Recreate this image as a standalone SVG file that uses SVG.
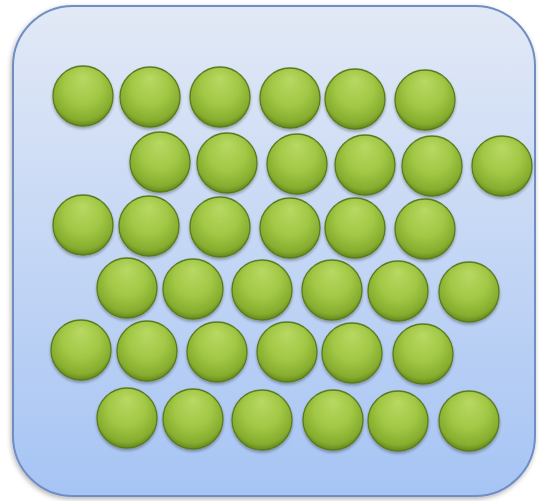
<svg xmlns="http://www.w3.org/2000/svg" width="539" height="501" viewBox="0 0 539 501">
<defs>
<linearGradient id="bg" x1="0" y1="0" x2="0" y2="1">
<stop offset="0" stop-color="#e2e9f6"/>
<stop offset="1" stop-color="#a6c4f4"/>
</linearGradient>
<radialGradient id="ball" cx="0.5" cy="0.42" r="0.58" fx="0.5" fy="0.18">
<stop offset="0" stop-color="#b8d963"/>
<stop offset="0.55" stop-color="#a2c745"/>
<stop offset="0.88" stop-color="#86ad2e"/>
<stop offset="1" stop-color="#66891d"/>
</radialGradient>
<filter id="sh" x="-20%" y="-20%" width="140%" height="140%">
<feGaussianBlur in="SourceAlpha" stdDeviation="1.5"/>
<feOffset dx="0" dy="2" result="b"/>
<feComponentTransfer><feFuncA type="linear" slope="0.3"/></feComponentTransfer>
<feMerge><feMergeNode/><feMergeNode in="SourceGraphic"/></feMerge>
</filter>
<filter id="psh" x="-10%" y="-10%" width="120%" height="120%">
<feGaussianBlur in="SourceAlpha" stdDeviation="2.5"/>
<feOffset dx="-1" dy="2"/>
<feComponentTransfer><feFuncA type="linear" slope="0.3"/></feComponentTransfer>
<feMerge><feMergeNode/><feMergeNode in="SourceGraphic"/></feMerge>
</filter>
</defs>
<style>
.b{fill:url(#ball);stroke:#5a7b1e;stroke-width:1.3;filter:url(#sh)}
</style>
<rect x="13" y="6" width="522" height="490" rx="60" ry="60" fill="url(#bg)" stroke="#6f8ec4" stroke-width="2" filter="url(#psh)"/>
<g id="balls">
<circle class="b" cx="83" cy="96" r="30"/>
<circle class="b" cx="150" cy="97" r="30"/>
<circle class="b" cx="220" cy="97" r="30"/>
<circle class="b" cx="290" cy="98" r="30"/>
<circle class="b" cx="355" cy="99" r="30"/>
<circle class="b" cx="425" cy="100" r="30"/>
<circle class="b" cx="160" cy="162" r="30"/>
<circle class="b" cx="227" cy="163" r="30"/>
<circle class="b" cx="297" cy="164" r="30"/>
<circle class="b" cx="365" cy="165" r="30"/>
<circle class="b" cx="432" cy="166" r="30"/>
<circle class="b" cx="502" cy="166" r="30"/>
<circle class="b" cx="83" cy="225" r="30"/>
<circle class="b" cx="149" cy="226" r="30"/>
<circle class="b" cx="220" cy="227" r="30"/>
<circle class="b" cx="290" cy="228" r="30"/>
<circle class="b" cx="355" cy="228" r="30"/>
<circle class="b" cx="425" cy="229" r="30"/>
<circle class="b" cx="127" cy="288" r="30"/>
<circle class="b" cx="193" cy="289" r="30"/>
<circle class="b" cx="262" cy="290" r="30"/>
<circle class="b" cx="332" cy="290" r="30"/>
<circle class="b" cx="398" cy="291" r="30"/>
<circle class="b" cx="469" cy="292" r="30"/>
<circle class="b" cx="81" cy="350" r="30"/>
<circle class="b" cx="147" cy="351" r="30"/>
<circle class="b" cx="217" cy="352" r="30"/>
<circle class="b" cx="287" cy="352" r="30"/>
<circle class="b" cx="352" cy="353" r="30"/>
<circle class="b" cx="423" cy="354" r="30"/>
<circle class="b" cx="127" cy="418" r="30"/>
<circle class="b" cx="193" cy="419" r="30"/>
<circle class="b" cx="262" cy="420" r="30"/>
<circle class="b" cx="333" cy="420" r="30"/>
<circle class="b" cx="398" cy="421" r="30"/>
<circle class="b" cx="469" cy="421" r="30"/>
</g>
</svg>
